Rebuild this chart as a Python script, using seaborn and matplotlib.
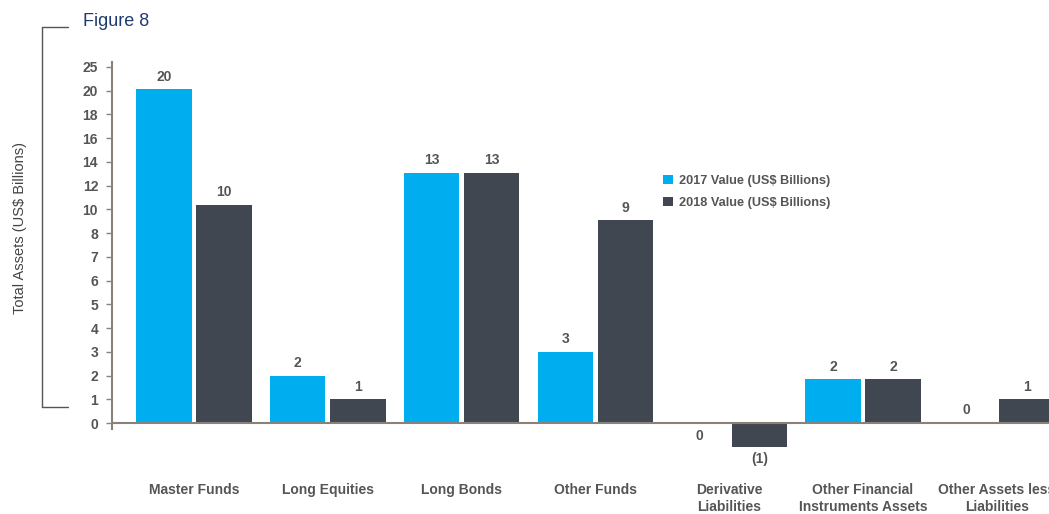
import numpy as np
import pandas as pd
import matplotlib
matplotlib.use("Agg")
import matplotlib.pyplot as plt
from matplotlib.lines import Line2D
import seaborn as sns

# ---------------- data ----------------
categories = ["Master Funds", "Long Equities", "Long Bonds", "Other Funds",
              "Derivative\nLiabilities", "Other Financial\nInstruments Assets",
              "Other Assets less\nLiabilities"]
series = ["2017 Value (US$ Billions)", "2018 Value (US$ Billions)"]
values_2017 = [20.3, 2.0, 13.1, 3.0, -0.02, 1.85, 0.0]
values_2018 = [10.4, 1.0, 13.1, 9.1, -1.0, 1.85, 1.0]
ytick_values = [0, 1, 2, 3, 4, 5, 6, 7, 8, 10, 12, 14, 16, 18, 20, 25]

df = pd.DataFrame({
    "category": categories * 2,
    "series": [series[0]] * len(categories) + [series[1]] * len(categories),
    "value": values_2017 + values_2018,
})

CYAN = "#00AEEF"
DARK = "#414751"
TEXT = "#555555"
AXIS = "#8a8279"

sns.set_theme(style="white")
plt.rcParams["font.family"] = ["Liberation Sans", "DejaVu Sans"]

fig = plt.figure(figsize=(10.49, 5.14), dpi=100)
fig.patch.set_facecolor("white")
ax = fig.add_axes([112 / 1049, 1 - 475 / 514, 1 - 112 / 1049, (475 - 62) / 514])

sns.barplot(data=df, x="category", y="value", hue="series", order=categories,
            hue_order=series, palette=[CYAN, DARK], saturation=1, width=0.9,
            gap=0.08, linewidth=0, ax=ax, legend=True)

# piecewise-linear value axis (evenly spaced, irregular tick values)
tv = np.array(ytick_values, dtype=float)
tp = np.arange(len(tv), dtype=float)
top_slope = tv[-1] - tv[-2]


def fwd(x):
    x = np.asarray(x, dtype=float)
    y = np.interp(x, tv, tp)
    y = np.where(x < 0, x, y)
    y = np.where(x > tv[-1], tp[-1] + (x - tv[-1]) / top_slope, y)
    return y


def inv(y):
    y = np.asarray(y, dtype=float)
    x = np.interp(y, tp, tv)
    x = np.where(y < 0, y, x)
    x = np.where(y > tp[-1], tv[-1] + (y - tp[-1]) * top_slope, x)
    return x


ax.set_yscale("function", functions=(fwd, inv))
ax.set_ylim(-2.19, 26.05)
ax.set_yticks(ytick_values)
ax.set_yticklabels([str(v) for v in ytick_values])
ax.set_xlim(-0.613, 6.39)

# bar value labels
for cont, vals in zip(ax.containers, [values_2017, values_2018]):
    labels = []
    for v in vals:
        n = int(round(v))
        labels.append(f"({abs(n)})" if n < 0 else f"{abs(n)}")
    ax.bar_label(cont, labels=labels, padding=4, fontsize=10,
                 fontweight="bold", color=TEXT)

# axes styling
for s in ["top", "right", "bottom"]:
    ax.spines[s].set_visible(False)
ax.spines["left"].set_color(AXIS)
ax.spines["left"].set_linewidth(1.5)
ax.spines["left"].set_bounds(-0.25, 26.05)
ax.axhline(0, color=AXIS, lw=1.5, zorder=3)
ax.tick_params(axis="y", which="major", left=True, length=4, width=1,
               color=AXIS, labelsize=10, labelcolor=TEXT, pad=6)
ax.tick_params(axis="x", length=0, labelsize=10, labelcolor=TEXT, pad=6)
for lab in ax.get_yticklabels() + ax.get_xticklabels():
    lab.set_fontweight("bold")
ax.set_xlabel("")
ax.set_ylabel("")
ax.grid(False)
ax.set_facecolor("none")

# legend
handles, labels = ax.get_legend_handles_labels()
ax.get_legend().remove()
fig.legend(handles, labels, loc="upper left",
           bbox_to_anchor=(663 / 1049, 1 - 175 / 514), frameon=False,
           handlelength=0.75, handleheight=0.75, handletextpad=0.5,
           labelspacing=0.75, borderpad=0, borderaxespad=0,
           prop={"size": 9.2, "weight": "bold"}, labelcolor=TEXT)

# title, y label, bracket
fig.text(83 / 1049, 1 - 21 / 514, "Figure 8", color="#1f3a70", fontsize=13,
         va="center", ha="left")
fig.text(20 / 1049, 1 - 228 / 514, "Total Assets (US$ Billions)", color="#444444",
         fontsize=10.5, rotation=90, va="center", ha="center")
bx0, bx1 = 42 / 1049, 68 / 1049
by0, by1 = 1 - 407 / 514, 1 - 27 / 514
for xs, ys in [([bx0, bx0], [by0, by1]), ([bx0, bx1], [by1, by1]),
               ([bx0, bx1], [by0, by0])]:
    fig.add_artist(Line2D(xs, ys, color="#555555", lw=1, transform=fig.transFigure))

fig.savefig("out.png", dpi=100)
